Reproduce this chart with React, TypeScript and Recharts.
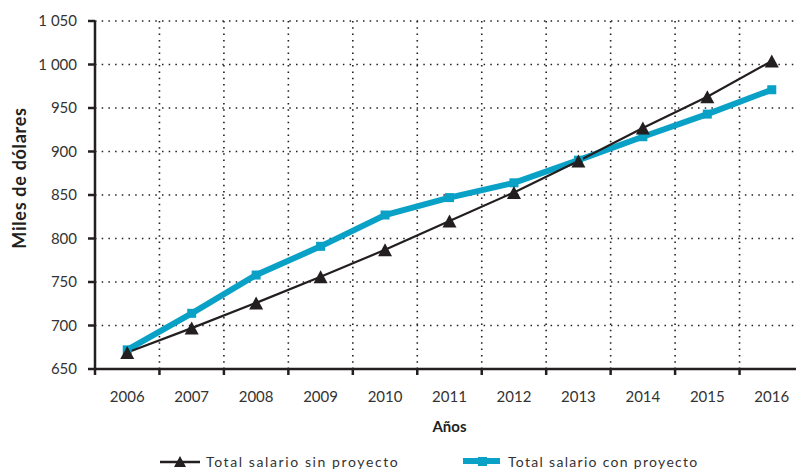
import React from 'react';
import { LineChart, Line, XAxis, YAxis, CartesianGrid } from 'recharts';

const years = ['2006', '2007', '2008', '2009', '2010', '2011', '2012', '2013', '2014', '2015', '2016'];
const sinProyecto = [669, 697, 726, 756, 787, 820, 853, 889, 927, 963, 1004];
const conProyecto = [672, 714, 758, 791, 827, 847, 864, 890, 917, 943, 971];
const yTicks = [650, 700, 750, 800, 850, 900, 950, 1000, 1050];
const seriesNames = ['Total salario sin proyecto', 'Total salario con proyecto'];

const data = years.map((y, i) => ({ x: i + 0.5, year: y, sin: sinProyecto[i], con: conProyecto[i] }));
const boundaryTicks = years.map((_, i) => i).concat([years.length]);
const centerTicks = years.map((_, i) => i + 0.5);

const FONT = 'Lato, "Open Sans", sans-serif';
const BLACK = '#231f20';
const BLUE = '#0aa1c7';

const fmtY = (v: number) => {
  const s = String(v);
  return s.length > 3 ? s.slice(0, s.length - 3) + ' ' + s.slice(-3) : s;
};

const TriangleDot = (props: any) => {
  const { cx, cy, index } = props;
  if (cx == null || cy == null) return <g key={'t' + index} />;
  return <path key={'t' + index} d={`M${cx},${cy - 6.5} L${cx + 7},${cy + 6.5} L${cx - 7},${cy + 6.5} Z`} fill={BLACK} />;
};

const SquareDot = (props: any) => {
  const { cx, cy, index } = props;
  if (cx == null || cy == null) return <g key={'s' + index} />;
  return <rect key={'s' + index} x={cx - 4.5} y={cy - 4.5} width={9} height={9} fill={BLUE} />;
};

const LegendBlock = () => (
  <svg width={796} height={25} style={{ position: 'absolute', left: 0, top: 448, display: 'block', overflow: 'visible' }}>
    <g>
      <line x1={160} x2={200} y1={14} y2={14} stroke={BLACK} strokeWidth={2.5} />
      <path d="M180,8 L186,19 L174,19 Z" fill={BLACK} />
      <text x={206} y={19} fontFamily={FONT} fontSize={14} fill="#333" letterSpacing={1.6}>{seriesNames[0]}</text>
    </g>
    <g>
      <line x1={463} x2={500} y1={13} y2={13} stroke={BLUE} strokeWidth={6} />
      <rect x={478} y={9} width={9} height={9} fill={BLUE} />
      <text x={508} y={19} fontFamily={FONT} fontSize={14} fill="#333" letterSpacing={1.3}>{seriesNames[1]}</text>
    </g>
  </svg>
);

const YLabel = () => (
  <text x={21} y={178} transform="rotate(-90 21 178)" textAnchor="middle" dominantBaseline="middle"
    fontFamily={FONT} fontWeight={700} fontSize={18} letterSpacing={0.7} fill={BLACK}>Miles de dólares</text>
);

export default function App() {
  return (
    <div style={{ width: 796, height: 473, overflow: 'hidden', position: 'fixed', top: 0, left: 0, background: '#fff' }}>
      <LineChart width={821} height={473} data={data} margin={{ top: 21, right: 17, left: 0, bottom: 0 }}>
        <CartesianGrid horizontal={true} vertical={false} stroke={BLACK} strokeDasharray="1.5 5.2" strokeWidth={1.6} />
        <CartesianGrid horizontal={false} vertical={true} stroke={BLACK} strokeDasharray="1.5 4.8" strokeWidth={1.6} />
        <XAxis xAxisId={0} type="number" dataKey="x" domain={[0, years.length]} ticks={boundaryTicks} interval={0}
          tickFormatter={() => ''} tickSize={6} height={8} axisLine={{ stroke: BLACK, strokeWidth: 2.5 }}
          tickLine={{ stroke: BLACK, strokeWidth: 2.5 }} allowDataOverflow />
        <XAxis xAxisId="lab" type="number" dataKey="x" domain={[0, years.length]} ticks={centerTicks} interval={0}
          tickFormatter={(v: number) => years[Math.floor(v)]} axisLine={false} tickLine={false}
          tickSize={6} tickMargin={8} height={96}
          tick={{ fontFamily: FONT, fontSize: 15, fill: '#333' }}
          label={{ value: 'Años', position: 'insideTop', offset: 44, fontFamily: FONT, fontWeight: 700, fontSize: 15, fill: BLACK }} />
        <YAxis type="number" domain={[650, 1050]} ticks={yTicks} width={95} tickFormatter={fmtY}
          tickSize={7} tickMargin={11} interval={0}
          axisLine={{ stroke: BLACK, strokeWidth: 2.5 }} tickLine={{ stroke: BLACK, strokeWidth: 2.5 }}
          tick={{ fontFamily: FONT, fontSize: 15, fill: '#333' }}
          label={<YLabel />} />
        <Line xAxisId={0} type="linear" dataKey="con" name={seriesNames[1]} stroke={BLUE} strokeWidth={6}
          dot={SquareDot} activeDot={false} isAnimationActive={false} />
        <Line xAxisId={0} type="linear" dataKey="sin" name={seriesNames[0]} stroke={BLACK} strokeWidth={2.2}
          dot={TriangleDot} activeDot={false} isAnimationActive={false} />
      </LineChart>
      <LegendBlock />
    </div>
  );
}
